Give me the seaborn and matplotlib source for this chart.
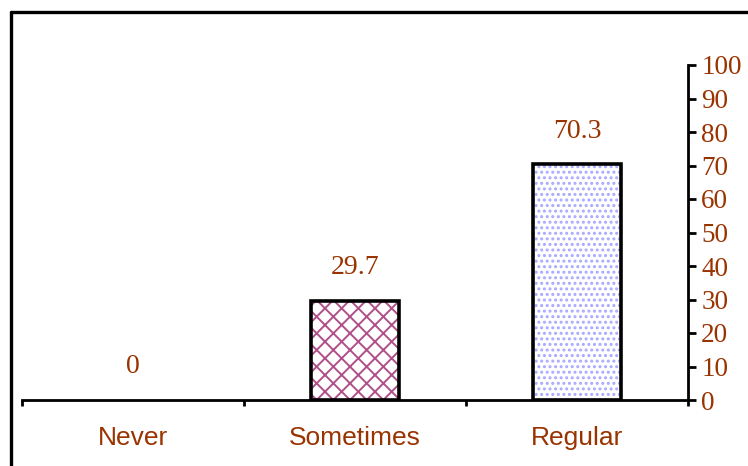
import matplotlib
matplotlib.use('Agg')
import matplotlib.pyplot as plt
from matplotlib.lines import Line2D
import seaborn as sns

# ------------------------------------------ Data ------------------------------------------ #
categories = ['Never', 'Sometimes', 'Regular']
percent = [0, 29.7, 70.3]
value_labels = ['0', '29.7', '70.3']
y_ticks = [0, 10, 20, 30, 40, 50, 60, 70, 80, 90, 100]

# ------------------------------------------ Style ------------------------------------------ #
text_col = '#993300'
hatches = ['', 'xx', '...']
hatch_cols = ['white', '#b0508a', '#a8a8ff']
serif = 'Liberation Serif'
sans = 'Liberation Sans'

sns.set_style('white')
plt.rcParams['hatch.linewidth'] = 1.4

W, H = 748, 466
fig = plt.figure(figsize=(W / 100, H / 100), dpi=100)
ax = fig.add_axes([22 / W, 1 - 400 / H, (688 - 22) / W, (400 - 65) / H])

# hatched fill layer
sns.barplot(x=categories, y=percent, width=0.4, color='white', ax=ax,
            linewidth=0, saturation=1)
for patch, h, hc in zip(ax.patches, hatches, hatch_cols):
    patch.set_hatch(h)
    patch.set_edgecolor(hc)
    patch.set_facecolor('white')
    patch.set_linewidth(0)

# black outline layer
n_before = len(ax.patches)
sns.barplot(x=categories, y=percent, width=0.4, fill=False, ax=ax,
            edgecolor='black', linewidth=2.6)
for patch, v in zip(ax.patches[n_before:], percent):
    if v == 0:
        patch.set_linewidth(0)

ax.set_xlim(-0.5, 2.5)
ax.set_ylim(0, 100)

# value labels
for i, (v, lab) in enumerate(zip(percent, value_labels)):
    ax.annotate(lab, (i, v), xytext=(0, 15), textcoords='offset points',
                ha='center', va='bottom', fontsize=20, color=text_col, family=serif)

# y axis on the right
ax.yaxis.tick_right()
ax.set_yticks(y_ticks)
ax.set_yticklabels([str(t) for t in y_ticks], fontsize=19.5, color=text_col, family=serif)
ax.tick_params(axis='y', right=True, direction='out', length=5.5, width=2, pad=4,
               colors='black', labelcolor=text_col)

# x axis: ticks between categories, labels centered
ax.set_xticks([-0.5, 0.5, 1.5, 2.5])
ax.set_xticklabels([])
ax.set_xticks([0, 1, 2], minor=True)
ax.set_xticklabels(categories, minor=True, fontsize=19, color=text_col, family=sans)
ax.tick_params(axis='x', which='major', bottom=True, direction='out', length=4.5, width=2,
               colors='black')
ax.tick_params(axis='x', which='minor', bottom=True, length=0, pad=19, labelcolor=text_col)

for side in ['left', 'top']:
    ax.spines[side].set_visible(False)
for side in ['right', 'bottom']:
    ax.spines[side].set_visible(True)
    ax.spines[side].set_linewidth(2)
    ax.spines[side].set_color('black')
ax.set_xlabel('')
ax.set_ylabel('')
ax.grid(False)

# outer frame (left and top edges visible)
fx, fy = 11 / W, 1 - 12 / H
fig.add_artist(Line2D([fx, fx], [0, fy], transform=fig.transFigure, color='black', lw=2.4))
fig.add_artist(Line2D([fx, 1], [fy, fy], transform=fig.transFigure, color='black', lw=2.4))

fig.savefig('out.png', dpi=100)
